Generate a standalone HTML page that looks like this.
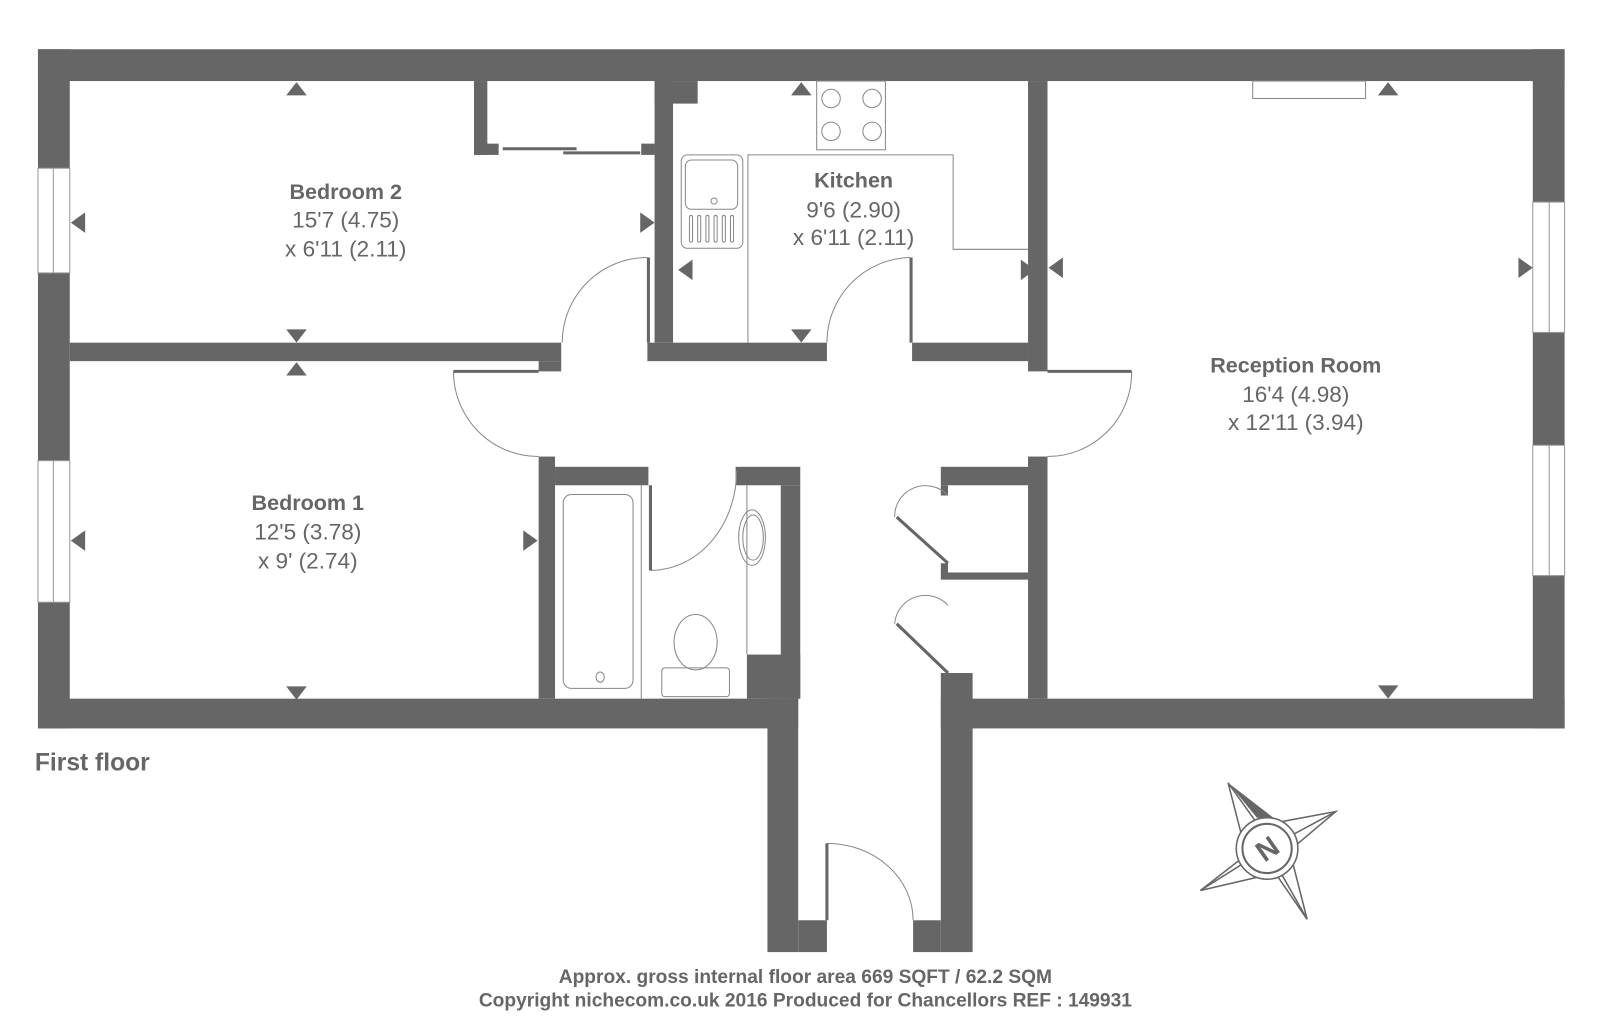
<!DOCTYPE html>
<html><head><meta charset="utf-8"><style>
html,body{margin:0;padding:0;background:#fff;}
svg{display:block;}
text{font-family:"Liberation Sans",sans-serif;fill:#666;}
.t{font-weight:bold;font-size:21px;}
.d{font-size:22px;}
</style></head><body>
<svg width="1600" height="1020" viewBox="0 0 1559.5 994.2" preserveAspectRatio="none" xmlns="http://www.w3.org/2000/svg">
<g fill="#666">
<rect x="37" y="48" width="1488" height="31"/>
<rect x="37" y="48" width="31" height="662"/>
<rect x="1494" y="48" width="31" height="662"/>
<rect x="37" y="681" width="741" height="29"/>
<rect x="917" y="681" width="608" height="29"/>
<rect x="748" y="681" width="30" height="247"/>
<rect x="917" y="656" width="31" height="272"/>
<rect x="778" y="897" width="28" height="31"/>
<rect x="890" y="897" width="27" height="31"/>
<rect x="462" y="79" width="13" height="72"/>
<rect x="462" y="140" width="24" height="11"/>
<rect x="625" y="140" width="13" height="11"/>
<rect x="638" y="79" width="18" height="255"/>
<rect x="638" y="79" width="42" height="22"/>
<rect x="68" y="334" width="479" height="18"/>
<rect x="525" y="352" width="22" height="10"/>
<rect x="631" y="334" width="175" height="18"/>
<rect x="889" y="334" width="113" height="18"/>
<rect x="1002" y="79" width="19" height="283"/>
<rect x="1002" y="445" width="19" height="236"/>
<rect x="525" y="445" width="16" height="236"/>
<rect x="541" y="455" width="91" height="18"/>
<rect x="717" y="455" width="63" height="18"/>
<rect x="761" y="473" width="19" height="208"/>
<rect x="728" y="638" width="52" height="43"/>
<rect x="917" y="455" width="85" height="18"/>
<rect x="917" y="473" width="7" height="10"/>
<rect x="917" y="549" width="7" height="16"/>
<rect x="924" y="558" width="78" height="7"/>
</g>
<g fill="#fff" stroke="#999" stroke-width="1">
<rect x="37" y="164" width="31" height="102"/>
<rect x="37" y="449" width="31" height="138"/>
<rect x="1494" y="197" width="31" height="127"/>
<rect x="1494" y="434" width="31" height="127"/>
<line x1="52" y1="164" x2="52" y2="266"/>
<line x1="52" y1="449" x2="52" y2="587"/>
<line x1="1510" y1="197" x2="1510" y2="324"/>
<line x1="1510" y1="434" x2="1510" y2="561"/>
</g>
<g fill="none" stroke="#888" stroke-width="1">
<path d="M631 251 A83 83 0 0 0 548 334"/>
<path d="M442 362 A83 83 0 0 0 525 445"/>
<path d="M887 251 A83 83 0 0 0 806 334"/>
<path d="M1103 362 A82 82 0 0 1 1021 445"/>
<path d="M634 556 A84 97 0 0 0 718 459"/>
<path d="M806 822 A84 75 0 0 1 890 897"/>
<path d="M872 504 A30 30 0 0 1 924 483"/>
<path d="M872 608 A30 30 0 0 1 924 590"/>
</g>
<g stroke="#666" stroke-width="3" fill="none">
<line x1="632" y1="251" x2="632" y2="334"/>
<line x1="442" y1="362" x2="525" y2="362"/>
<line x1="888" y1="251" x2="888" y2="334"/>
<line x1="1021" y1="362" x2="1103" y2="362"/>
<line x1="634" y1="473" x2="634" y2="556"/>
<line x1="806" y1="822" x2="806" y2="897"/>
<line x1="924" y1="549" x2="874" y2="504"/>
<line x1="924" y1="656" x2="874" y2="608"/>
<line x1="490" y1="145" x2="562" y2="145"/>
<line x1="549" y1="149" x2="624" y2="149"/>
</g>
<g fill="none" stroke="#888" stroke-width="1">
<rect x="796" y="79" width="67" height="67"/>
<circle cx="810" cy="96" r="9"/><circle cx="850" cy="96" r="9"/>
<circle cx="810" cy="128" r="9"/><circle cx="850" cy="128" r="9"/>
<polyline points="729,334 729,151 929,151 929,243 1002,243"/>
<rect x="664" y="151" width="60" height="91" rx="6"/>
<rect x="668" y="156" width="51" height="48" rx="6"/>
<circle cx="696" cy="196" r="3"/>
<g stroke-width="1"><rect x="672" y="210" width="3" height="26" rx="1.5"/><rect x="680" y="210" width="3" height="26" rx="1.5"/><rect x="688" y="210" width="3" height="26" rx="1.5"/><rect x="696" y="210" width="3" height="26" rx="1.5"/><rect x="704" y="210" width="3" height="26" rx="1.5"/><rect x="712" y="210" width="3" height="26" rx="1.5"/></g>
<rect x="1221" y="79" width="110" height="17"/>
<line x1="625" y1="473" x2="625" y2="681"/>
<rect x="549" y="482" width="68" height="189" rx="8"/>
<ellipse cx="585" cy="660" rx="4" ry="5"/>
<line x1="728" y1="473" x2="728" y2="638"/>
<ellipse cx="733" cy="524" rx="13" ry="27"/>
<ellipse cx="734" cy="524" rx="10" ry="22"/>
<ellipse cx="678" cy="626" rx="21" ry="27"/>
<rect x="645" y="651" width="66" height="28" rx="3"/>
</g>
<g fill="#666">
<polygon points="279,93 299,93 289,80"/>
<polygon points="279,321 299,321 289,334"/>
<polygon points="279,366 299,366 289,353"/>
<polygon points="279,669 299,669 289,682"/>
<polygon points="83,207 83,227 69,217"/>
<polygon points="624,207 624,227 638,217"/>
<polygon points="83,517 83,537 69,527"/>
<polygon points="510,517 510,537 524,527"/>
<polygon points="771,93 791,93 781,80"/>
<polygon points="771,321 791,321 781,334"/>
<polygon points="675,253 675,273 661,263"/>
<polygon points="995,253 995,273 1009,263"/>
<polygon points="1343,93 1363,93 1353,80"/>
<polygon points="1343,668 1363,668 1353,681"/>
<polygon points="1036,251 1036,271 1022,261"/>
<polygon points="1480,251 1480,271 1494,261"/>
</g>
<g text-anchor="middle">
<text class="t" x="337" y="194">Bedroom 2</text>
<text class="d" x="337" y="222">15'7 (4.75)</text>
<text class="d" x="337" y="250">x 6'11 (2.11)</text>
<text class="t" x="300" y="497">Bedroom 1</text>
<text class="d" x="300" y="526">12'5 (3.78)</text>
<text class="d" x="300" y="554">x 9' (2.74)</text>
<text class="t" x="832" y="183">Kitchen</text>
<text class="d" x="832" y="212">9'6 (2.90)</text>
<text class="d" x="832" y="239">x 6'11 (2.11)</text>
<text class="t" x="1263" y="363">Reception Room</text>
<text class="d" x="1263" y="392">16'4 (4.98)</text>
<text class="d" x="1263" y="419">x 12'11 (3.94)</text>
<text class="t" x="785" y="958" style="font-size:18.7px">Approx. gross internal floor area 669 SQFT / 62.2 SQM</text>
<text class="t" x="785" y="981" style="font-size:18.7px">Copyright nichecom.co.uk 2016 Produced for Chancellors REF : 149931</text>
</g>
<text class="t" x="34" y="734" style="font-size:24px" dy="17">First floor</text>
<g transform="translate(1235,827)">
<g fill="none" stroke="#666" stroke-width="1.5">
<polygon points="-38,-64 -8,-22 67,-36 22,2 39,69 8,24 -65,41 -20,6"/>
<line x1="-8" y1="-22" x2="22" y2="2"/><line x1="22" y1="2" x2="8" y2="24"/><line x1="8" y1="24" x2="-20" y2="6"/><line x1="-20" y1="6" x2="-8" y2="-22"/>
<line x1="67" y1="-36" x2="0" y2="0"/><line x1="39" y1="69" x2="0" y2="0"/><line x1="-65" y1="41" x2="0" y2="0"/>
</g>
<polygon points="-38,-64 -10,-30 10,-27" fill="#666"/>
<circle r="30" fill="#fff" stroke="#666" stroke-width="1.5"/>
<circle r="24" fill="none" stroke="#666" stroke-width="2"/>
<text x="0" y="10" text-anchor="middle" transform="rotate(-35)" style="font-weight:bold;font-size:28px">N</text>
</g>
</svg>
</body></html>
